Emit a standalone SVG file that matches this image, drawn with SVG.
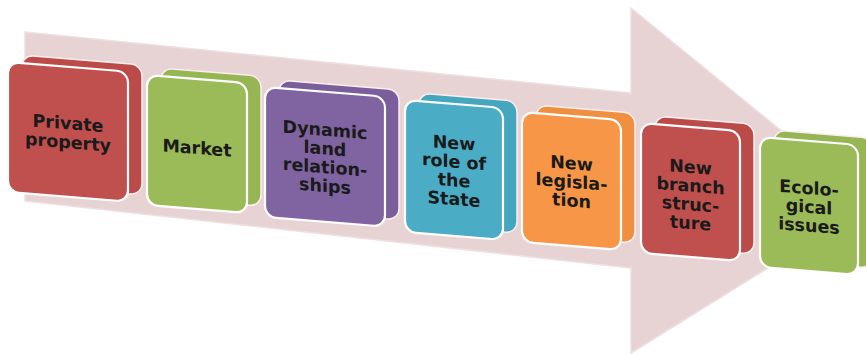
<svg xmlns="http://www.w3.org/2000/svg" width="866" height="355" viewBox="0 0 866 355">
  <style>
    .bg { fill: #ffffff; }
    .arrow { fill: #e8d3d4; stroke: #eedfe0; stroke-width: 1.5; stroke-linejoin: round; }
    .back { stroke: #fbeeee; stroke-width: 1.5; }
    .front { stroke: #ffffff; stroke-width: 2.2; }
    .red .back { fill: #bb4b48; } .red .front { fill: #c0504d; }
    .green .back { fill: #96b653; } .green .front { fill: #9bbb59; }
    .purple .back { fill: #7a5e9c; } .purple .front { fill: #8064a2; }
    .blue .back { fill: #45a6c0; } .blue .front { fill: #4bacc6; }
    .orange .back { fill: #f18f40; } .orange .front { fill: #f79646; }
    .lbl { font-family: "DejaVu Sans", "Liberation Sans", sans-serif; font-weight: bold; font-size: 17.5px; fill: #1a1a1a; text-anchor: middle; }
  </style>
  <rect class="bg" x="0" y="0" width="866" height="355"/>
  <g id="connectors">
    <polygon class="arrow" points="25,32 631,93 631,8 871,204 631,353 631,268 25,201"/>
  </g>

  <g id="box1" class="red" transform="translate(8,62) skewY(4.6)">
    <rect class="back" x="14" y="-8" width="120" height="130" rx="11"/>
    <rect class="front" x="0" y="0" width="120" height="130" rx="11"/>
    <text class="lbl" x="60" y="62.5">Private</text>
    <text class="lbl" x="60" y="81.5">property</text>
  </g>

  <g id="box2" class="green" transform="translate(147,75) skewY(4.6)">
    <rect class="back" x="14" y="-8" width="100" height="130" rx="11"/>
    <rect class="front" x="0" y="0" width="100" height="130" rx="11"/>
    <text class="lbl" x="50" y="75">Market</text>
  </g>

  <g id="box3" class="purple" transform="translate(265,87) skewY(4.6)">
    <rect class="back" x="14" y="-8" width="120" height="130" rx="11"/>
    <rect class="front" x="0" y="0" width="120" height="130" rx="11"/>
    <text class="lbl" x="60" y="44">Dynamic</text>
    <text class="lbl" x="60" y="62.7">land</text>
    <text class="lbl" x="60" y="81.4">relation-</text>
    <text class="lbl" x="60" y="100.1">ships</text>
  </g>

  <g id="box4" class="blue" transform="translate(405,100) skewY(4.6)">
    <rect class="back" x="14" y="-8" width="98" height="132" rx="11"/>
    <rect class="front" x="0" y="0" width="98" height="132" rx="11"/>
    <text class="lbl" x="49" y="45">New</text>
    <text class="lbl" x="49" y="63.7">role of</text>
    <text class="lbl" x="49" y="82.4">the</text>
    <text class="lbl" x="49" y="101.1">State</text>
  </g>

  <g id="box5" class="orange" transform="translate(522,112) skewY(4.6)">
    <rect class="back" x="14" y="-8" width="99" height="130" rx="11"/>
    <rect class="front" x="0" y="0" width="99" height="130" rx="11"/>
    <text class="lbl" x="49.5" y="53.3">New</text>
    <text class="lbl" x="49.5" y="72">legisla-</text>
    <text class="lbl" x="49.5" y="90.7">tion</text>
  </g>

  <g id="box6" class="red" transform="translate(641,123) skewY(4.6)">
    <rect class="back" x="14" y="-8" width="99" height="130" rx="11"/>
    <rect class="front" x="0" y="0" width="99" height="130" rx="11"/>
    <text class="lbl" x="49.5" y="46">New</text>
    <text class="lbl" x="49.5" y="64.7">branch</text>
    <text class="lbl" x="49.5" y="83.4">struc-</text>
    <text class="lbl" x="49.5" y="102.1">ture</text>
  </g>

  <g id="box7" class="green" transform="translate(760,137) skewY(4.6)">
    <rect class="back" x="14" y="-8" width="98" height="130" rx="11"/>
    <rect class="front" x="0" y="0" width="98" height="130" rx="11"/>
    <text class="lbl" x="49" y="53.3">Ecolo-</text>
    <text class="lbl" x="49" y="72">gical</text>
    <text class="lbl" x="49" y="90.7">issues</text>
  </g>
</svg>
